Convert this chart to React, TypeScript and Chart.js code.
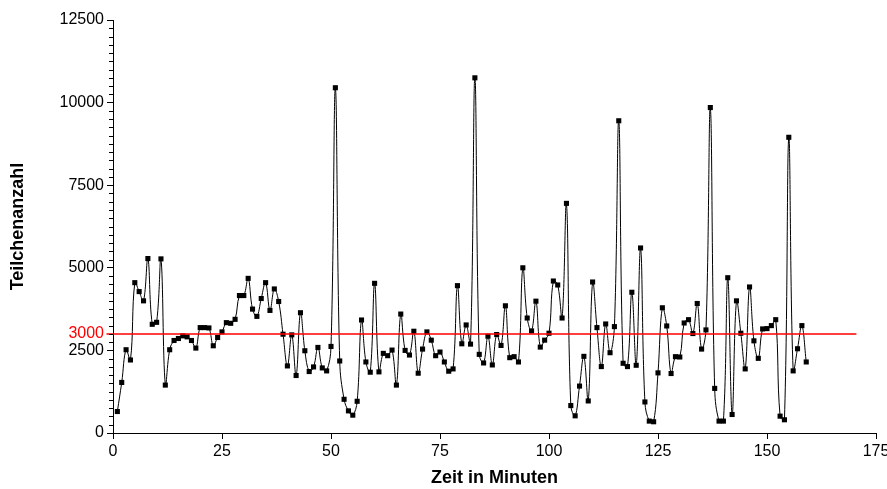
import React, { useEffect, useRef } from "react";
import { Chart, registerables } from "chart.js";

Chart.register(...registerables);

const minutes = [
  1, 2, 3, 4, 5, 6, 7, 8, 9, 10, 11, 12, 13, 14, 15, 16, 17, 18, 19, 20,
  21, 22, 23, 24, 25, 26, 27, 28, 29, 30, 31, 32, 33, 34, 35, 36, 37, 38, 39, 40,
  41, 42, 43, 44, 45, 46, 47, 48, 49, 50, 51, 52, 53, 54, 55, 56, 57, 58, 59, 60,
  61, 62, 63, 64, 65, 66, 67, 68, 69, 70, 71, 72, 73, 74, 75, 76, 77, 78, 79, 80,
  81, 82, 83, 84, 85, 86, 87, 88, 89, 90, 91, 92, 93, 94, 95, 96, 97, 98, 99, 100,
  101, 102, 103, 104, 105, 106, 107, 108, 109, 110, 111, 112, 113, 114, 115, 116, 117, 118, 119, 120,
  121, 122, 123, 124, 125, 126, 127, 128, 129, 130, 131, 132, 133, 134, 135, 136, 137, 138, 139, 140,
  141, 142, 143, 144, 145, 146, 147, 148, 149, 150, 151, 152, 153, 154, 155, 156, 157, 158, 159,
];

const counts = [
  650, 1530, 2520, 2210, 4550, 4280, 4000, 5280, 3290, 3350,
  5270, 1450, 2520, 2800, 2860, 2940, 2910, 2800, 2570, 3190,
  3190, 3180, 2640, 2890, 3060, 3340, 3320, 3440, 4160, 4160,
  4680, 3750, 3530, 4070, 4550, 3710, 4360, 3980, 2990, 2030,
  2970, 1740, 3640, 2490, 1860, 2000, 2590, 1970, 1880, 2620,
  10450, 2180, 1020, 670, 540, 960, 3420, 2150, 1840, 4530,
  1850, 2410, 2340, 2510, 1450, 3600, 2500, 2360, 3080, 1810,
  2540, 3060, 2810, 2340, 2450, 2150, 1870, 1940, 4460, 2700,
  3270, 2690, 10750, 2380, 2120, 2930, 2060, 2980, 2650, 3850,
  2280, 2310, 2150, 5000, 3480, 3090, 3990, 2600, 2810, 3020,
  4600, 4480, 3480, 6950, 830, 520, 1420, 2320, 970, 4570,
  3190, 2010, 3300, 2430, 3220, 9450, 2110, 2010, 4260, 2050,
  5600, 940, 360, 340, 1820, 3790, 3240, 1800, 2310, 2300,
  3330, 3430, 3010, 3920, 2540, 3120, 9850, 1350, 360, 360,
  4700, 560, 4000, 3020, 1940, 4420, 2790, 2260, 3150, 3160,
  3250, 3430, 510, 400, 8950, 1880, 2550, 3250, 2150,
];

const xTickValues = [0, 25, 50, 75, 100, 125, 150, 175];
const yTickValues = [0, 2500, 5000, 7500, 10000, 12500];
const yMinorStep = 250;
const thresholdValue = 3000;
const thresholdRange = [-1.5, 170.5];
const xTitle = "Zeit in Minuten";
const yTitle = "Teilchenanzahl";

const FONT = "'Liberation Sans', Arial, Helvetica, sans-serif";

export default function App() {
  const ref = useRef<HTMLCanvasElement | null>(null);

  useEffect(() => {
    if (!ref.current) return;

    const minorTicks = {
      id: "minorTicks",
      afterDraw(chart: any) {
        const ys = chart.scales.y;
        const ctx = chart.ctx;
        const x0 = ys.right;
        ctx.save();
        ctx.strokeStyle = "#000";
        ctx.lineWidth = 1;
        ctx.beginPath();
        for (let v = ys.min; v <= ys.max; v += yMinorStep) {
          if (yTickValues.includes(v)) continue;
          const py = Math.round(ys.getPixelForValue(v)) + 0.5;
          ctx.moveTo(x0 - 4, py);
          ctx.lineTo(x0, py);
        }
        ctx.stroke();
        ctx.restore();
      },
    };

    const seriesData = minutes.map((m, i) => ({ x: m, y: counts[i] }));
    const thresholdData = thresholdRange.map((x) => ({ x, y: thresholdValue }));

    const chart = new Chart(ref.current, {
      type: "line",
      data: {
        datasets: [
          {
            data: thresholdData,
            borderColor: "#ff0000",
            borderWidth: 1.5,
            pointRadius: 0,
            tension: 0,
            clip: false as any,
            order: 0,
          },
          {
            data: seriesData,
            borderColor: "#000",
            backgroundColor: "#000",
            borderWidth: 1,
            pointStyle: "rect",
            pointRadius: 3.6,
            pointBorderWidth: 0,
            pointBackgroundColor: "#000",
            tension: 0.4,
            order: 1,
          },
        ],
      },
      options: {
        animation: false,
        responsive: false,
        events: [],
        layout: { padding: { top: 20, right: 11, left: 0, bottom: 0 } },
        plugins: {
          legend: { display: false },
          tooltip: { enabled: false },
        },
        scales: {
          x: {
            type: "linear",
            min: 0,
            max: 175,
            afterBuildTicks: (s: any) => {
              s.ticks = xTickValues.map((v) => ({ value: v }));
            },
            afterFit: (s: any) => {
              s.height = 56;
              s.paddingLeft = 0;
              s.paddingRight = 0;
            },
            ticks: {
              autoSkip: false,
              maxRotation: 0,
              padding: 3,
              color: "#000",
              font: { family: FONT, size: 16 },
              callback: (v: any) => String(v),
            },
            grid: {
              drawOnChartArea: false,
              tickLength: 6,
              tickColor: "#000",
              color: "#000",
            },
            border: { display: true, color: "#000", width: 1 },
            title: {
              display: true,
              text: xTitle,
              color: "#000",
              font: { family: FONT, size: 18, weight: "bold" },
              padding: { top: 0, bottom: 0 },
            },
          },
          y: {
            type: "linear",
            min: 0,
            max: 12500,
            afterBuildTicks: (s: any) => {
              s.ticks = [...yTickValues, thresholdValue]
                .sort((a, b) => a - b)
                .map((v) => ({ value: v }));
            },
            afterFit: (s: any) => {
              s.width = 113;
              s.paddingTop = 0;
              s.paddingBottom = 0;
            },
            ticks: {
              autoSkip: false,
              padding: 3,
              color: (c: any) =>
                c.tick && c.tick.value === thresholdValue ? "#ff0000" : "#000",
              font: { family: FONT, size: 16 },
              callback: (v: any) => String(v),
            },
            grid: {
              drawOnChartArea: false,
              tickLength: 6,
              tickColor: (c: any) =>
                c.tick && c.tick.value === thresholdValue ? "rgba(0,0,0,0)" : "#000",
              color: "#000",
            },
            border: { display: true, color: "#000", width: 1 },
            title: {
              display: true,
              text: yTitle,
              color: "#000",
              font: { family: FONT, size: 18, weight: "bold" },
              padding: { top: 7, bottom: 0 },
            },
          },
        },
      } as any,
      plugins: [minorTicks],
    });

    return () => chart.destroy();
  }, []);

  return (
    <div style={{ position: "fixed", left: 0, top: 0, width: 887, height: 489, background: "#fff" }}>
      <canvas ref={ref} width={887} height={489} style={{ display: "block" }} />
    </div>
  );
}
